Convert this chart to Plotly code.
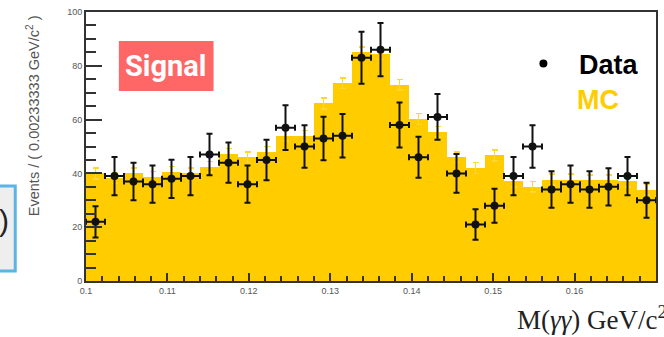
import numpy as np
import plotly.graph_objects as go

# Binning of the diphoton mass axis
x_lo, x_hi, n_bins = 0.10, 0.17, 30
bin_w = (x_hi - x_lo) / n_bins
centers = x_lo + bin_w * (np.arange(n_bins) + 0.5)

# Observed events per bin and their uncertainties
data_counts = [22, 39, 37, 36, 38, 39, 47, 44, 36, 45,
               57, 50, 53, 54, 83, 86, 58, 46, 61, 40,
               21, 28, 39, 50, 34, 36, 34, 35, 39, 30]
data_err = [5.8, 7.1, 7.0, 6.9, 7.1, 7.1, 7.7, 7.5, 6.9, 7.5,
            8.3, 7.9, 8.1, 8.1, 9.7, 9.9, 8.4, 7.6, 8.5, 7.2,
            5.7, 6.3, 7.1, 7.9, 6.8, 6.9, 6.8, 6.9, 7.1, 6.5]

# Simulated (MC) expectation per bin and its statistical error
mc_counts = [40, 38.3, 40, 38.8, 40.5, 40, 42.5, 47.2, 46, 48,
             54, 54, 66, 73.5, 85, 84.3, 73, 60.2, 55.5, 46,
             42, 46.7, 37, 35, 37.7, 37.7, 37.5, 37.5, 37, 34]
mc_err = [2.0, 2.0, 2.0, 2.0, 2.0, 2.0, 2.0, 2.0, 2.0, 2.0,
          2.0, 2.0, 2.0, 2.0, 2.0, 2.0, 2.0, 2.0, 2.0, 2.0,
          2.0, 2.0, 2.0, 2.0, 2.0, 2.0, 2.0, 2.0, 2.0, 2.0]

# Axis ticks
x_tick_vals = [0.10, 0.11, 0.12, 0.13, 0.14, 0.15, 0.16, 0.17]
x_tick_text = ["0.1", "0.11", "0.12", "0.13", "0.14", "0.15", "0.16", "0.17"]
y_tick_vals = [0, 20, 40, 60, 80, 100]

W, H = 664, 337
ML, MR, MT, MB = 86, 6, 12, 56
PW, PH = W - ML - MR, H - MT - MB


def px(x):
    return (x - ML) / PW


def py(y):
    return (H - MB - y) / PH


YELLOW = "#FFCC00"
INK = "#111111"
AXIS = "#333333"

fig = go.Figure()

fig.add_trace(go.Bar(
    x=centers, y=mc_counts, width=bin_w,
    marker=dict(color=YELLOW, line=dict(width=0)),
    error_y=dict(type="data", array=mc_err, color="#FFD633", thickness=1.5, width=3),
    showlegend=False, hoverinfo="skip",
))

fig.add_trace(go.Scatter(
    x=centers, y=data_counts, mode="markers",
    marker=dict(size=8, color=INK),
    error_y=dict(type="data", array=data_err, color=INK, thickness=2, width=3),
    error_x=dict(type="constant", value=bin_w / 2, color=INK, thickness=2, width=3),
    showlegend=False,
))

tick_font = dict(family="Liberation Sans, Arial, sans-serif", size=9, color="#555555")

fig.update_xaxes(
    range=[x_lo, x_hi], tickmode="array", tickvals=x_tick_vals, ticktext=x_tick_text,
    ticks="inside", ticklen=8, tickwidth=1.5, tickcolor=AXIS,
    minor=dict(ticks="inside", ticklen=5, dtick=0.002, tick0=0.1, tickwidth=1.5, tickcolor=AXIS),
    showline=True, linewidth=2, linecolor=AXIS, mirror=True,
    showgrid=False, zeroline=False, tickfont=tick_font,
)
fig.update_yaxes(
    range=[0, 100], tickmode="array", tickvals=y_tick_vals,
    ticks="inside", ticklen=16, tickwidth=1.5, tickcolor=AXIS,
    minor=dict(ticks="inside", ticklen=10, dtick=5, tick0=0, tickwidth=1.5, tickcolor=AXIS),
    showline=True, linewidth=2, linecolor=AXIS, mirror=True,
    showgrid=False, zeroline=False, tickfont=tick_font,
)

shapes = [
    # "Signal" label box
    dict(type="rect", xref="paper", yref="paper",
         x0=px(119), x1=px(214), y0=py(91), y1=py(41),
         fillcolor="#FF6666", line=dict(width=0), layer="above"),
    # partial panel at the left edge
    dict(type="rect", xref="paper", yref="paper",
         x0=px(-12), x1=px(15), y0=py(271), y1=py(186),
         fillcolor="#EEEEEE", line=dict(color="#5BB4E4", width=3), layer="above"),
    # legend marker for data
    dict(type="circle", xref="paper", yref="paper",
         x0=px(541), x1=px(549), y0=py(67.5), y1=py(59.5),
         fillcolor="black", line=dict(width=0), layer="above"),
]

annotations = [
    dict(text="<b>Signal</b>", x=px(166.5), y=py(66), xref="paper", yref="paper",
         xanchor="center", yanchor="middle", showarrow=False,
         font=dict(family="Roboto, sans-serif", size=29, color="white")),
    dict(text="<b>Data</b>", x=px(579), y=py(64.5), xref="paper", yref="paper",
         xanchor="left", yanchor="middle", showarrow=False,
         font=dict(family="Liberation Sans, Arial, sans-serif", size=27, color="black")),
    dict(text="<b>MC</b>", x=px(577), y=py(99.5), xref="paper", yref="paper",
         xanchor="left", yanchor="middle", showarrow=False,
         font=dict(family="Liberation Sans, Arial, sans-serif", size=27, color=YELLOW)),
    dict(text="M(<i>γγ</i>) GeV/c<sup>2</sup>", x=px(517), y=py(318), xref="paper", yref="paper",
         xanchor="left", yanchor="middle", showarrow=False,
         font=dict(family="Liberation Serif, Times New Roman, serif", size=27, color="#222222")),
    dict(text="Events / ( 0.00233333 GeV/c<sup>2</sup> )", x=px(33), y=py(116),
         xref="paper", yref="paper", xanchor="center", yanchor="middle",
         textangle=-90, showarrow=False,
         font=dict(family="Liberation Sans, Arial, sans-serif", size=14.5, color="#555555")),
    dict(text=")", x=px(-3), y=py(220), xref="paper", yref="paper",
         xanchor="left", yanchor="middle", showarrow=False,
         font=dict(family="Liberation Sans, Arial, sans-serif", size=30, color="#222222")),
]

fig.update_layout(
    width=W, height=H,
    margin=dict(l=ML, r=MR, t=MT, b=MB, pad=0),
    paper_bgcolor="white", plot_bgcolor="white",
    bargap=0, showlegend=False,
    shapes=shapes, annotations=annotations,
)

fig.write_html("out.html")
